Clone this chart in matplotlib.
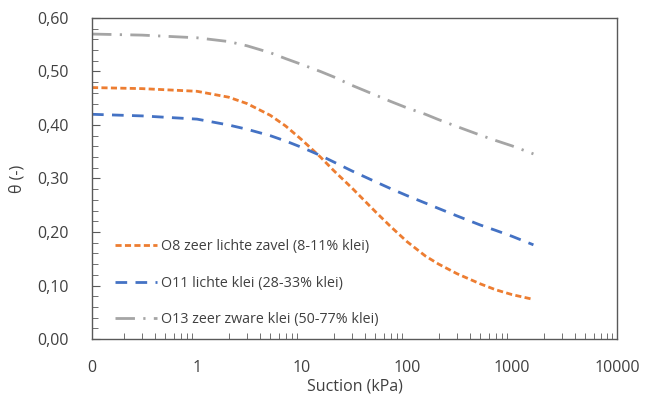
import numpy as np
import matplotlib
matplotlib.use("Agg")
import matplotlib.pyplot as plt
from matplotlib.ticker import FixedLocator, MultipleLocator, FuncFormatter

plt.rcParams['font.family'] = ['Open Sans', 'DejaVu Sans']

# zuigspanning (kPa), 0.1 staat op de as als "0"
suction = [0.1, 0.3, 1, 2, 3, 5, 7, 10, 15, 20, 30, 50, 70, 100,
           150, 200, 300, 500, 700, 1000, 1600]

theta_o8 = [0.470, 0.468, 0.463, 0.452, 0.440, 0.418, 0.398, 0.372, 0.340,
            0.315, 0.282, 0.238, 0.210, 0.182, 0.155, 0.140, 0.122, 0.103,
            0.092, 0.083, 0.074]
theta_o11 = [0.420, 0.417, 0.411, 0.400, 0.392, 0.380, 0.370, 0.358, 0.343,
             0.331, 0.314, 0.294, 0.281, 0.268, 0.254, 0.244, 0.230, 0.213,
             0.203, 0.192, 0.176]
theta_o13 = [0.570, 0.568, 0.563, 0.556, 0.548, 0.535, 0.524, 0.513, 0.500,
             0.490, 0.474, 0.456, 0.444, 0.432, 0.420, 0.410, 0.397, 0.381,
             0.371, 0.361, 0.346]

labels = ["O8 zeer lichte zavel (8-11% klei)",
          "O11 lichte klei (28-33% klei)",
          "O13 zeer zware klei (50-77% klei)"]

x_ticks = [0.1, 1, 10, 100, 1000, 10000]
x_ticklabels = ["0", "1", "10", "100", "1000", "10000"]

fig = plt.figure(figsize=(6.45, 3.96), dpi=100)
ax = fig.add_axes([92 / 645, 1 - 339 / 396, 525 / 645, 321 / 396])

ax.plot(suction, theta_o8, color="#ED7D31", lw=2.0, dashes=(2.2, 1.2),
        label=labels[0])
ax.plot(suction, theta_o11, color="#4472C4", lw=2.0, dashes=(4.2, 3.0),
        label=labels[1])
ax.plot(suction, theta_o13, color="#A5A5A5", lw=2.0, dashes=(7, 3, 0.8, 3),
        label=labels[2])

ax.set_xscale("log")
ax.set_xlim(0.1, 10000)
ax.set_ylim(0, 0.6)

ax.xaxis.set_major_locator(FixedLocator(x_ticks))
ax.xaxis.set_major_formatter(FuncFormatter(
    lambda v, p: x_ticklabels[x_ticks.index(v)] if v in x_ticks else ""))
minor = [m * 10.0 ** e for e in range(-1, 4) for m in range(2, 10)]
ax.xaxis.set_minor_locator(FixedLocator(minor))
ax.xaxis.set_minor_formatter(FuncFormatter(lambda v, p: ""))

ax.yaxis.set_major_locator(MultipleLocator(0.1))
ax.yaxis.set_minor_locator(MultipleLocator(0.02))
ax.yaxis.set_major_formatter(FuncFormatter(lambda v, p: f"{v:.2f}".replace(".", ",")))

ax.tick_params(axis="both", which="both", direction="in", colors="#595959",
               labelcolor="#404040", labelsize=11.5)
ax.tick_params(axis="x", which="major", length=0, pad=15)
ax.tick_params(axis="x", which="minor", length=4)
ax.tick_params(axis="y", which="major", length=6, pad=17)
ax.tick_params(axis="y", which="minor", length=4)

for s in ax.spines.values():
    s.set_color("#595959")
    s.set_linewidth(1.0)

ax.set_xlabel("Suction (kPa)", fontsize=11.5, color="#404040", labelpad=2)
ax.set_ylabel("θ (-)", fontsize=11.5, color="#404040", labelpad=8)

ax.legend(loc="upper left", bbox_to_anchor=(0.044, 0.31), frameon=False,
          fontsize=10.3, labelspacing=1.5, handlelength=2.9, handletextpad=0.3,
          borderpad=0, borderaxespad=0, labelcolor="#404040")

fig.savefig("out.png", dpi=100)
